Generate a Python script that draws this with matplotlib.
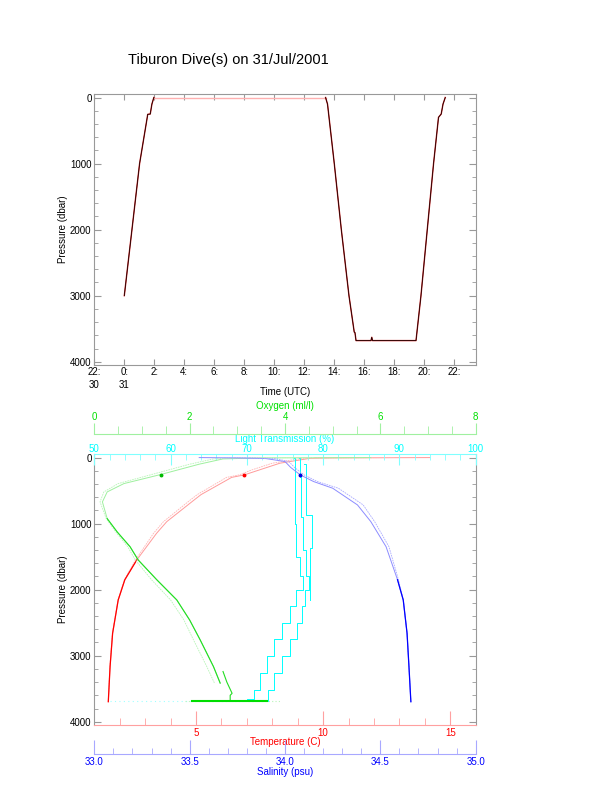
import matplotlib
matplotlib.use("Agg")
import matplotlib.pyplot as plt
from matplotlib.ticker import MultipleLocator, FixedLocator, FixedFormatter
import numpy as np

plt.rcParams['font.family'] = ['Liberation Sans', 'DejaVu Sans']
plt.rcParams['font.size'] = 7

# ---- dive track (hours since 00:00 31/Jul) ----
dive1_h = [0.0, 0.51, 1.02, 1.53, 1.56, 1.73, 1.84, 1.97]
dive1_p = [3000, 2000, 1000, 300, 255, 250, 100, 0]
surf_h = [1.97, 13.42]
surf_p = [0, 0]
dive2_h = [13.42, 13.55, 14.0, 14.47, 14.98, 15.33, 15.38, 15.45, 16.45, 16.5, 16.55,
           19.45, 19.78, 20.2, 20.62, 20.95, 21.13, 21.25, 21.4]
dive2_p = [0, 100, 1000, 2000, 3000, 3550, 3560, 3680, 3680, 3630, 3680,
           3680, 3000, 2000, 1000, 300, 250, 100, 0]
time_ticks = [-2, 0, 2, 4, 6, 8, 10, 12, 14, 16, 18, 20, 22]
time_labels = ['22:\n30', '0:\n31', '2:', '4:', '6:', '8:', '10:', '12:', '14:',
               '16:', '18:', '20:', '22:']

# ---- profiles ----
temp_p = [0, 5, 10, 85, 186, 262, 300, 560, 650, 970, 1146, 1550, 1850, 2156, 2660, 3166, 3697]
temp_a = [14.2, 10.4, 9.5, 8.3, 7.5, 6.9, 6.4, 5.2, 4.9, 3.85, 3.45, 2.67, 2.2, 1.94, 1.72, 1.62, 1.55]
temp_b = [12.8, 10.0, 9.2, 8.0, 7.2, 6.7, 6.2, 5.05, 4.75, 3.72, 3.33, 2.62, 2.18, 1.93, 1.71, 1.61, 1.55]

sal_p = [0, 5, 15, 60, 150, 262, 363, 464, 717, 970, 1350, 1850, 2156, 2660, 3166, 3697]
sal_a = [33.55, 33.75, 33.9, 34.0, 34.03, 34.08, 34.15, 34.25, 34.38, 34.45, 34.53,
         34.59, 34.62, 34.64, 34.65, 34.66]
sal_b = [33.68, 33.82, 33.95, 34.02, 34.05, 34.1, 34.17, 34.28, 34.41, 34.47, 34.545,
         34.595, 34.62, 34.64, 34.65, 34.66]

oxy_p = [0, 5, 20, 100, 257, 394, 520, 671, 924, 1126, 1350, 1550, 1850, 2156, 2460, 2760, 3166, 3415]
oxy_a = [5.8, 3.5, 2.7, 2.2, 1.39, 0.62, 0.27, 0.17, 0.27, 0.48, 0.75, 0.92, 1.31, 1.73, 2.0, 2.22, 2.5, 2.64]
oxy_b = [4.6, 3.0, 2.5, 2.0, 1.2, 0.5, 0.2, 0.12, 0.25, 0.45, 0.7, 0.86, 1.2, 1.6, 1.88, 2.08, 2.36, 2.52]
oxy_deep_p = [3240, 3400, 3570, 3600, 3690]
oxy_deep = [2.70, 2.78, 2.89, 2.85, 2.85]
oxy_bottom = [2.04, 3.62]
oxy_bottom_scatter = [1.9, 3.9]
bottom_p = 3690

lt_p_a = [0, 300, 1000, 1500, 1800, 2000, 2250, 2500, 2750, 3000, 3260, 3520, 3650, 3690]
lt_a = [76.2, 76.3, 76.3, 76.5, 77.0, 77.3, 76.5, 75.6, 74.6, 73.5, 72.6, 71.7, 71.0, 70.0]
lt_p_b = [0, 300, 900, 1400, 1800, 2000, 2250, 2500, 2750, 3000, 3260, 3520, 3690]
lt_b = [76.8, 77.0, 77.1, 77.4, 77.8, 78.1, 77.6, 77.2, 76.6, 75.6, 74.6, 73.6, 72.8]
lt_p_c = [100, 300, 870, 950, 1370, 1450, 2150]
lt_c = [77.5, 77.8, 77.8, 78.5, 78.5, 78.3, 78.3]
lt_bottom = [52, 72]

stop_p = 260
stop_temp, stop_sal, stop_oxy = 6.9, 34.08, 1.39

GRAY = '#999999'
fig = plt.figure(figsize=(6.12, 7.85), dpi=100)
fig.text(0.373, 0.923, 'Tiburon Dive(s) on 31/Jul/2001', ha='center', va='center', fontsize=10.5)

# ---------------- top panel ----------------
ax1 = fig.add_axes([0.1541, 0.535, 0.6232, 0.345])
ax1.plot(surf_h, surf_p, color='#ffb0b0', lw=1)
for h, p in [(dive1_h, dive1_p), (dive2_h, dive2_p)]:
    ax1.plot(h, p, color='#cc2020', lw=1.0)
    ax1.plot(h, p, color='black', lw=0.5)
ax1.set_xlim(-2, 23.43)
ax1.set_ylim(4050, -50)
ax1.xaxis.set_major_locator(FixedLocator(time_ticks))
ax1.xaxis.set_major_formatter(FixedFormatter(time_labels))
ax1.yaxis.set_major_locator(MultipleLocator(1000))
ax1.yaxis.set_minor_locator(MultipleLocator(200))
ax1.tick_params(axis='both', which='both', direction='in', color=GRAY, top=True, right=True)
ax1.tick_params(axis='x', length=4, pad=1.5)
ax1.tick_params(axis='y', which='major', length=5, pad=2)
ax1.tick_params(axis='y', which='minor', length=3)
for lab in ax1.get_xticklabels():
    lab.set_linespacing(1.3)
    lab.set_va('top')
for s in ax1.spines.values():
    s.set_color(GRAY)
ax1.set_xlabel('Time (UTC)')
ax1.xaxis.set_label_coords(0.5, -0.099)
ax1.xaxis.label.set_va('center')
ax1.set_ylabel('Pressure (dbar)')
ax1.yaxis.set_label_coords(-0.082, 0.5)
ax1.yaxis.label.set_va('center')

# ---------------- bottom panel ----------------
ax2 = fig.add_axes([0.1541, 0.0764, 0.6232, 0.3449])
ax2.set_ylim(4050, -50)
ax2.set_xlim(1, 16)
lt_ax = ax2.twiny()
ox_ax = ax2.twiny()
sal_ax = ax2.twiny()
lt_ax.set_xlim(50, 100)
ox_ax.set_xlim(0, 8)
sal_ax.set_xlim(33, 35)

# light transmission
for p, v in [(lt_p_a, lt_a), (lt_p_b, lt_b), (lt_p_c, lt_c)]:
    lt_ax.plot(v, p, color='#00ffff', lw=0.7, drawstyle='steps-post')
lt_ax.plot(lt_bottom, [bottom_p, bottom_p], color='#a0ffff', lw=0.8, ls=(0, (1, 3)))

# oxygen
ox_ax.plot(oxy_a, oxy_p, color='#9ef09e', lw=0.7)
ox_ax.plot(oxy_b, oxy_p, color='#b8f5b8', lw=0.6, ls=(0, (2, 1)))
oxy_p_arr = np.array(oxy_p)
deep = oxy_p_arr >= 900
ox_ax.plot(np.array(oxy_a)[deep], oxy_p_arr[deep], color='#22dd22', lw=0.8)
ox_ax.plot(oxy_deep, oxy_deep_p, color='#22dd22', lw=0.8)
ox_ax.plot(oxy_bottom_scatter, [bottom_p, bottom_p], color='#b8f5b8', lw=0.8, ls=(0, (1, 2)))
ox_ax.plot(oxy_bottom, [bottom_p, bottom_p], color='#00dd00', lw=1.5)
ox_ax.plot([stop_oxy], [stop_p], 'o', color='#00bb00', ms=1.8)

# temperature
ax2.plot(temp_a, temp_p, color='#ff9a9a', lw=0.7)
ax2.plot(temp_b, temp_p, color='#ffb5b5', lw=0.6, ls=(0, (2, 1)))
temp_p_arr = np.array(temp_p)
deep = temp_p_arr >= 1400
ax2.plot(np.array(temp_a)[deep], temp_p_arr[deep], color='red', lw=0.9)
ax2.plot([stop_temp], [stop_p], 'o', color='red', ms=1.8)

# salinity
sal_ax.plot(sal_a, sal_p, color='#8c8cff', lw=0.7)
sal_ax.plot(sal_b, sal_p, color='#aaaaff', lw=0.6, ls=(0, (2, 1)))
sal_p_arr = np.array(sal_p)
deep = sal_p_arr >= 1400
sal_ax.plot(np.array(sal_a)[deep], sal_p_arr[deep], color='#0000ff', lw=0.9)
sal_ax.plot([stop_sal], [stop_p], 'o', color='#0000dd', ms=1.8)

# pressure axis
ax2.yaxis.set_major_locator(MultipleLocator(1000))
ax2.yaxis.set_minor_locator(MultipleLocator(200))
ax2.tick_params(axis='y', which='both', direction='in', color=GRAY, right=True)
ax2.tick_params(axis='y', which='major', length=5, pad=2)
ax2.tick_params(axis='y', which='minor', length=3)
ax2.set_ylabel('Pressure (dbar)')
ax2.yaxis.set_label_coords(-0.082, 0.5)
ax2.yaxis.label.set_va('center')
ax2.spines['left'].set_color(GRAY)
ax2.spines['right'].set_color(GRAY)
ax2.spines['top'].set_visible(False)

# temperature axis (bottom of box)
ax2.spines['bottom'].set_color('#ffa0a0')
ax2.xaxis.set_major_locator(FixedLocator([5, 10, 15]))
ax2.xaxis.set_minor_locator(MultipleLocator(1))
ax2.tick_params(axis='x', which='both', direction='in', color='#ffa0a0', labelcolor='red', pad=2)
ax2.tick_params(axis='x', which='major', length=10)
ax2.tick_params(axis='x', which='minor', length=5)
ax2.set_xlabel('Temperature (C)', color='red')
ax2.xaxis.set_label_coords(0.5, -0.063)
ax2.xaxis.label.set_va('center')

# light transmission axis (top of box)
for k in ['left', 'right', 'bottom']:
    lt_ax.spines[k].set_visible(False)
lt_ax.spines['top'].set_color('#80ffff')
lt_ax.xaxis.set_major_locator(MultipleLocator(10))
lt_ax.xaxis.set_minor_locator(MultipleLocator(2))
lt_ax.tick_params(axis='x', which='both', direction='in', color='#80ffff', labelcolor='#00ffff', pad=0.3)
lt_ax.tick_params(axis='x', which='major', length=8)
lt_ax.tick_params(axis='x', which='minor', length=4)
lt_ax.set_xlabel('Light Transmission (%)', color='#00ffff')
lt_ax.xaxis.set_label_coords(0.5, 1.058)
lt_ax.xaxis.label.set_va('center')

# oxygen axis (above box)
for k in ['left', 'right', 'bottom']:
    ox_ax.spines[k].set_visible(False)
ox_ax.spines['top'].set_position(('axes', 1.0735))
ox_ax.spines['top'].set_color('#a0f0a0')
ox_ax.xaxis.set_major_locator(MultipleLocator(2))
ox_ax.xaxis.set_minor_locator(MultipleLocator(0.5))
ox_ax.tick_params(axis='x', which='both', direction='out', color='#a0f0a0', labelcolor='#00e000', pad=1)
ox_ax.tick_params(axis='x', which='major', length=8)
ox_ax.tick_params(axis='x', which='minor', length=6)
ox_ax.set_xlabel('Oxygen (ml/l)', color='#00e000')
ox_ax.xaxis.set_label_coords(0.5, 1.178)
ox_ax.xaxis.label.set_va('center')

# salinity axis (below box)
for k in ['left', 'right', 'top']:
    sal_ax.spines[k].set_visible(False)
sal_ax.spines['bottom'].set_visible(True)
sal_ax.xaxis.set_ticks_position('bottom')
sal_ax.xaxis.set_label_position('bottom')
sal_ax.spines['bottom'].set_position(('axes', -0.1082))
sal_ax.spines['bottom'].set_color('#a8a8ff')
sal_ax.xaxis.set_major_locator(MultipleLocator(0.5))
sal_ax.xaxis.set_minor_locator(MultipleLocator(0.1))
sal_ax.xaxis.set_major_formatter(plt.FuncFormatter(lambda v, pos: '%.1f' % v))
sal_ax.tick_params(axis='x', which='both', direction='in', color='#a8a8ff', labelcolor='#0000ff', pad=2)
sal_ax.tick_params(axis='x', which='major', length=10)
sal_ax.tick_params(axis='x', which='minor', length=4.5)
sal_ax.set_xlabel('Salinity (psu)', color='#0000ff')
sal_ax.xaxis.set_label_coords(0.5, -0.1725)
sal_ax.xaxis.label.set_va('center')

fig.savefig('out.png', dpi=100)
